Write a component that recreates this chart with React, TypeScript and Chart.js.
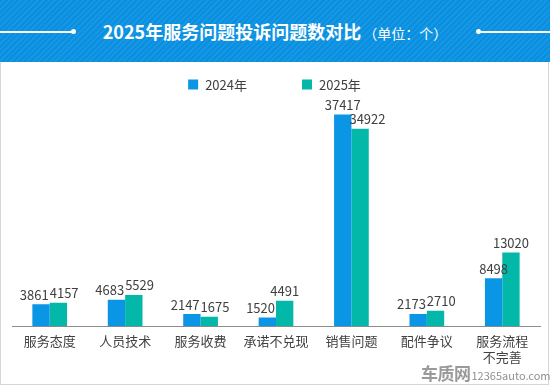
import React, { useEffect, useRef } from "react";
import { Chart, registerables } from "chart.js";

Chart.register(...registerables);

const categories: string[][] = [
  ["服务态度"],
  ["人员技术"],
  ["服务收费"],
  ["承诺不兑现"],
  ["销售问题"],
  ["配件争议"],
  ["服务流程", "不完善"],
];
const seriesNames = ["2024年", "2025年"];
const series2024 = [3861, 4683, 2147, 1520, 37417, 2173, 8498];
const series2025 = [4157, 5529, 1675, 4491, 34922, 2710, 13020];
const yMin = 0;
const yMax = 40000;

const FONT = '"Microsoft YaHei","Noto Sans CJK SC","Noto Sans",sans-serif';
const COLORS = ["#0a95e5", "#03b8a8"];
const TEXT = "#404040";

const legendPlugin = {
  id: "customLegend",
  afterDraw(chart: any) {
    const ctx = chart.ctx;
    ctx.save();
    ctx.font = `13px ${FONT}`;
    const box = 10;
    const gapBoxText = 7;
    const gapItems = 55;
    const items = chart.data.datasets.map((d: any) => ({
      label: d.label,
      color: d.backgroundColor,
      w: box + gapBoxText + ctx.measureText(d.label).width,
    }));
    const total = items.reduce((s: number, it: any) => s + it.w, 0) + gapItems * (items.length - 1);
    let x = chart.width / 2 - total / 2;
    const y = 22.5;
    items.forEach((it: any) => {
      ctx.fillStyle = it.color;
      ctx.fillRect(x, y - box / 2, box, box);
      ctx.fillStyle = TEXT;
      ctx.textAlign = "left";
      ctx.textBaseline = "middle";
      ctx.fillText(it.label, x + box + gapBoxText, y + 0.5);
      x += it.w + gapItems;
    });
    ctx.restore();
  },
};

const valueLabelPlugin = {
  id: "valueLabels",
  afterDatasetsDraw(chart: any) {
    const ctx = chart.ctx;
    const m0 = chart.getDatasetMeta(0).data;
    const m1 = chart.getDatasetMeta(1).data;
    const d0 = chart.data.datasets[0].data;
    const d1 = chart.data.datasets[1].data;
    ctx.save();
    ctx.font = `13px ${FONT}`;
    ctx.fillStyle = TEXT;
    ctx.textBaseline = "alphabetic";
    const off = 4.5;
    for (let i = 0; i < m0.length; i++) {
      const a = m0[i];
      const b = m1[i];
      const ta = String(d0[i]);
      const tb = String(d1[i]);
      const boundary = (a.x + a.width / 2 + b.x - b.width / 2) / 2;
      const gap = Math.abs(a.y - b.y);
      let pushA = false;
      let pushB = false;
      if (gap < 10) {
        pushA = true;
        pushB = true;
      } else if (gap < 20) {
        if (a.y > b.y) pushA = true;
        else pushB = true;
      }
      if (pushA) {
        ctx.textAlign = "right";
        ctx.fillText(ta, boundary - 1, a.y - off);
      } else {
        ctx.textAlign = "center";
        ctx.fillText(ta, a.x, a.y - off);
      }
      if (pushB) {
        ctx.textAlign = "left";
        ctx.fillText(tb, boundary - (pushA ? 0 : 2), b.y - off);
      } else {
        ctx.textAlign = "center";
        ctx.fillText(tb, b.x, b.y - off);
      }
    }
    ctx.restore();
  },
};

function ChartCanvas() {
  const ref = useRef<HTMLCanvasElement>(null);
  useEffect(() => {
    if (!ref.current) return;
    const chart = new Chart(ref.current, {
      type: "bar",
      data: {
        labels: categories,
        datasets: [
          {
            label: seriesNames[0],
            data: series2024,
            backgroundColor: COLORS[0],
            categoryPercentage: 0.46,
            barPercentage: 1,
          },
          {
            label: seriesNames[1],
            data: series2025,
            backgroundColor: COLORS[1],
            categoryPercentage: 0.46,
            barPercentage: 1,
          },
        ],
      },
      options: {
        animation: false,
        responsive: false,
        maintainAspectRatio: false,
        layout: { padding: { left: 12, right: 9, top: 38, bottom: 12 } },
        plugins: { legend: { display: false }, tooltip: { enabled: false } },
        scales: {
          x: {
            grid: { display: false, drawTicks: false },
            border: { display: true, color: "#8c8c8c", width: 1 },
            ticks: {
              color: TEXT,
              font: { family: FONT, size: 13, lineHeight: 1.3 },
              padding: 6,
              maxRotation: 0,
              autoSkip: false,
            },
          },
          y: { display: false, min: yMin, max: yMax },
        },
      },
      plugins: [legendPlugin, valueLabelPlugin],
    } as any);
    return () => chart.destroy();
  }, []);
  return (
    <canvas
      ref={ref}
      width={549}
      height={322}
      style={{ position: "absolute", left: 0, top: 62, width: 549, height: 322 }}
    />
  );
}

export default function App() {
  return (
    <div
      style={{
        position: "absolute",
        left: 0,
        top: 0,
        width: 550,
        height: 386,
        background: "#fff",
        overflow: "hidden",
        fontFamily: FONT,
      }}
    >
      <div
        style={{
          position: "absolute",
          left: 0,
          top: 0,
          width: 550,
          height: 62,
          background:
            "repeating-linear-gradient(135deg, #0a8fe0 0px, #0a8fe0 2px, #1597e4 2px, #1597e4 4px)",
        }}
      >
        <div style={{ position: "absolute", left: 0, top: 31, width: 73, height: 1.5, background: "#fff" }} />
        <div style={{ position: "absolute", left: 70.5, top: 29.2, width: 5, height: 5, borderRadius: 3, background: "#fff" }} />
        <div style={{ position: "absolute", left: 478, top: 31, width: 72, height: 1.5, background: "#fff" }} />
        <div style={{ position: "absolute", left: 475.5, top: 29.2, width: 5, height: 5, borderRadius: 3, background: "#fff" }} />
        <div
          style={{
            position: "absolute",
            left: 0,
            width: 550,
            top: 17,
            textAlign: "center",
            color: "#fff",
            whiteSpace: "nowrap",
            lineHeight: "28px",
          }}
        >
          <span style={{ fontSize: 18, fontWeight: "bold" }}>2025年服务问题投诉问题数对比</span>
          <span style={{ fontSize: 14, marginLeft: 2 }}>（单位：个）</span>
        </div>
      </div>
      <div
        style={{
          position: "absolute",
          left: 0,
          top: 62,
          width: 549,
          height: 323,
          boxSizing: "border-box",
          border: "1px solid #d6d6d6",
          borderTop: "none",
        }}
      />
      <ChartCanvas />
      <div
        style={{
          position: "absolute",
          left: 421,
          top: 363,
          whiteSpace: "nowrap",
          color: "#9a9a9a",
          lineHeight: "20px",
        }}
      >
        <span style={{ fontSize: 17, fontWeight: "bold", letterSpacing: -0.5 }}>车质网</span>
        <span style={{ fontSize: 11, color: "#8f8f8f", marginLeft: 1 }}>12365auto.com</span>
      </div>
    </div>
  );
}
